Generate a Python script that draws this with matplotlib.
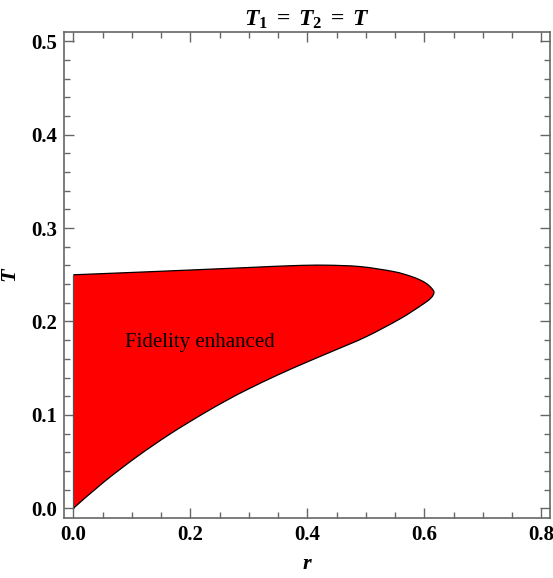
import numpy as np
import matplotlib
matplotlib.use("Agg")
import matplotlib.pyplot as plt
from matplotlib.path import Path
from matplotlib.patches import PathPatch
from matplotlib.ticker import MultipleLocator

plt.rcParams['font.family'] = ['Liberation Serif', 'DejaVu Serif']
plt.rcParams['mathtext.fontset'] = 'custom'
plt.rcParams['mathtext.it'] = 'Liberation Serif:italic:bold'
plt.rcParams['mathtext.rm'] = 'Liberation Serif:bold'

# upper boundary of the region, left to right
r_upper = [0.0, 0.1, 0.2, 0.3, 0.376, 0.43, 0.49, 0.547, 0.575, 0.593, 0.604, 0.612, 0.6166]
T_upper = [0.250, 0.2525, 0.2551, 0.2578, 0.2598, 0.2603, 0.2588, 0.2535, 0.2488, 0.2444, 0.2405, 0.2360, 0.2313]

# lower boundary, from the tip back to the origin
r_lower = [0.6166, 0.612, 0.598, 0.5585, 0.50, 0.444, 0.40, 0.35, 0.296, 0.262, 0.222, 0.165, 0.108, 0.0513, 0.0]
T_lower = [0.2313, 0.2255, 0.2186, 0.2028, 0.1835, 0.1684, 0.1567, 0.1429, 0.1267, 0.1155, 0.1013, 0.0794, 0.0549, 0.0277, 0.0]

region_label = "Fidelity enhanced"


def smooth_path(xs, ys):
    # Catmull-Rom through the points, expressed as cubic Bezier pieces
    p = np.column_stack([xs, ys])
    verts, codes = [p[0]], [Path.MOVETO]
    n = len(p)
    for i in range(n - 1):
        p0 = p[i - 1] if i > 0 else p[i]
        p1, p2 = p[i], p[i + 1]
        p3 = p[i + 2] if i + 2 < n else p[i + 1]
        c1 = p1 + (p2 - p0) / 6
        c2 = p2 - (p3 - p1) / 6
        verts += [c1, c2, p2]
        codes += [Path.CURVE4] * 3
    return verts, codes


fig = plt.figure(figsize=(5.53, 5.78), dpi=100)
ax = fig.add_axes([64/553, 1 - 518.3/578, (550 - 64)/553, (518.3 - 32.3)/578])

# one continuous boundary: along the top, round the tip, back along the bottom
bx = list(r_upper) + list(r_lower[1:])
by = list(T_upper) + list(T_lower[1:])
vb, cb = smooth_path(bx, by)
region = Path(vb + [vb[0]], cb + [Path.CLOSEPOLY])
ax.add_patch(PathPatch(region, facecolor='#ff0000', edgecolor='none', zorder=2))
ax.add_patch(PathPatch(Path(vb, cb), facecolor='none', edgecolor='black', lw=0.9, zorder=3))
ax.plot([0, 0], [0, 0.25], color='#555555', lw=0.9, zorder=3)

ax.text(0.2166, 0.178, region_label, fontsize=15, ha='center', va='center', zorder=4)

ax.set_xlim(-0.016, 0.815)
ax.set_ylim(-0.0107, 0.5096)
ax.xaxis.set_major_locator(MultipleLocator(0.2))
ax.xaxis.set_minor_locator(MultipleLocator(0.05))
ax.yaxis.set_major_locator(MultipleLocator(0.1))
ax.yaxis.set_minor_locator(MultipleLocator(0.02))
ax.xaxis.set_major_formatter(lambda v, p: f"{v:.1f}")
ax.yaxis.set_major_formatter(lambda v, p: f"{v:.1f}")

frame = '#666666'
for s in ax.spines.values():
    s.set_color(frame)
    s.set_linewidth(1.2)
ax.tick_params(which='both', direction='in', top=True, right=True, color=frame, width=1.0)
ax.tick_params(which='major', length=7, labelsize=15, pad=5)
ax.tick_params(which='minor', length=4)
for lab in ax.get_xticklabels() + ax.get_yticklabels():
    lab.set_fontweight('bold')

ax.set_xlabel(r'$r$', fontsize=16, labelpad=7)
ax.set_ylabel(r'$T$', fontsize=16, labelpad=7, rotation=90)
ax.set_title(r'$T_1\;=\;T_2\;=\;T$', fontsize=17, pad=5)

fig.savefig("out.png", dpi=100)
